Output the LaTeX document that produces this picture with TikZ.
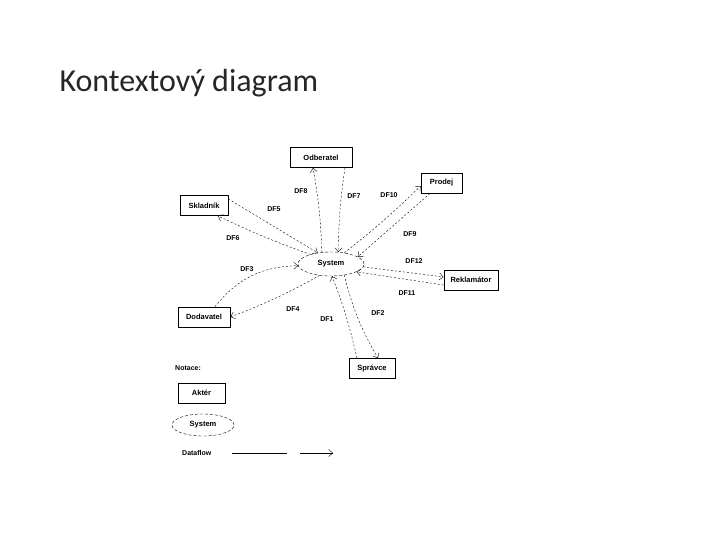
\documentclass[tikz,border=0pt]{standalone}
\usepackage{fontspec}
\setmainfont{Carlito}
\newfontfamily\dfdfont{Liberation Sans}
\usepackage{tikz}
\usetikzlibrary{shapes.geometric,arrows,arrows.meta}
\tikzstyle{actor} = [draw, thick, minimum height=20pt, font=\dfdfont\bfseries\fontsize{7.5}{8}\selectfont, inner sep=1pt]
\tikzstyle{proc} = [draw, ellipse, dash pattern=on 3pt off 2pt, minimum width=66pt, minimum height=24pt, font=\dfdfont\bfseries\fontsize{7.5}{8}\selectfont]
\tikzstyle{flow} = [-{Straight Barb[length=4pt,width=7pt]}, dash pattern=on 2pt off 2pt]
\tikzstyle{lbl} = [font=\dfdfont\bfseries\fontsize{7}{8}\selectfont, inner sep=1pt]

\begin{document}
\begin{tikzpicture}[x=1pt,y=-1pt]
	\useasboundingbox (0,0) rectangle (720,540);
	\node[anchor=base west, font=\fontsize{32}{38}\selectfont, text=black!85] (title) at (56,92) {Kontextový diagram};
	% actors and the system
	\node[proc] (sys) at (331,264) {System};
	\node[actor, minimum width=62pt] (odb) at (321,157.5) {Odberatel};
	\node[actor, minimum width=41pt] (prod) at (441.5,183) {Prodej};
	\node[actor, minimum width=48pt] (skl) at (204,205.5) {Skladník};
	\node[actor, minimum width=54pt] (rekl) at (471,280) {Reklamátor};
	\node[actor, minimum width=52pt] (dod) at (204,317) {Dodavatel};
	\node[actor, minimum width=46pt] (spr) at (372,368.5) {Správce};
	% data flows
	\draw[flow] (sys.128) to[bend right=4] ([xshift=-8pt]odb.south);
	\draw[flow] ([xshift=24pt]odb.south) to[bend right=4] (sys.58);
	\draw[flow] (sys.40) to[bend right=3] ([yshift=-3pt]prod.west);
	\draw[flow] ([xshift=-11.5pt]prod.south) -- (sys.15);
	\draw[flow] (sys.-5) -- ([yshift=3pt]rekl.west);
	\draw[flow] ([yshift=-5pt]rekl.west) -- (sys.-17);
	\draw[flow] (sys.-40) to[bend right=8] ([xshift=6pt]spr.north);
	\draw[flow] ([xshift=-15pt]spr.north) to[bend right=4] (sys.-85);
	\draw[flow] (sys.-135) to[bend left=4] (dod.east);
	\draw[flow] ([xshift=11pt]dod.north) to[bend left=25] (sys.183);
	\draw[flow] (sys.155) to[bend left=3] ([xshift=14pt]skl.south);
	\draw[flow] ([yshift=6.5pt]skl.east) -- (sys.140);
	% labels
	\node[lbl] (l8) at (301,191) {DF8};
	\node[lbl] (l7) at (354,196) {DF7};
	\node[lbl] (l10) at (389,195) {DF10};
	\node[lbl] (l9) at (410,234) {DF9};
	\node[lbl] (l12) at (414,261) {DF12};
	\node[lbl] (l11) at (407,293) {DF11};
	\node[lbl] (l2) at (378,313) {DF2};
	\node[lbl] (l1) at (327,319) {DF1};
	\node[lbl] (l4) at (293,309) {DF4};
	\node[lbl] (l3) at (247,269) {DF3};
	\node[lbl] (l6) at (233,238) {DF6};
	\node[lbl] (l5) at (274,209) {DF5};
	% notation
	\node[lbl, anchor=west] (notace) at (174,368) {Notace:};
	\node[actor, minimum width=47pt] (aktor) at (201.5,393) {Aktér};
	\node[proc, minimum width=62pt, minimum height=22pt] (legsys) at (203,425) {System};
	\node[lbl, anchor=west] (dfl) at (181,453) {Dataflow};
	\coordinate (a1) at (232,453);
	\coordinate (a2) at (287,453);
	\coordinate (b1) at (300,453);
	\coordinate (b2) at (333,453);
	\draw (a1) -- (a2);
	\draw[-{Straight Barb[length=4pt,width=7pt]}] (b1) -- (b2);
\end{tikzpicture}
\end{document}
